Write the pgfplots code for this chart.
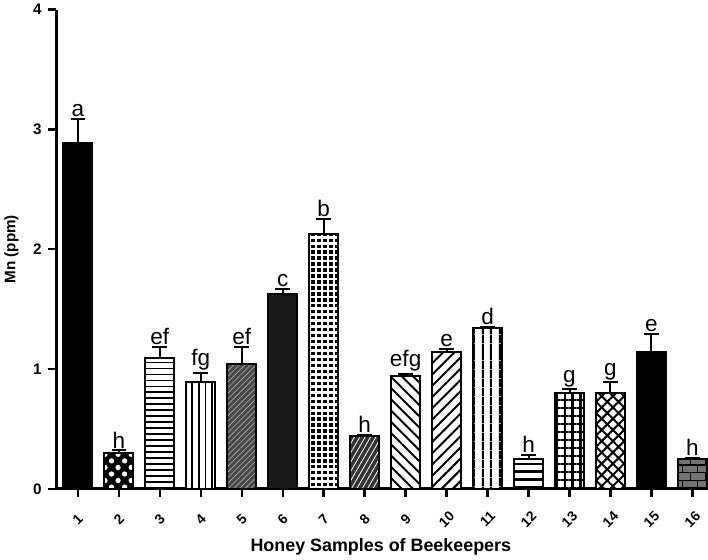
\documentclass[border=0pt]{standalone}
\usepackage{pgfplots}
\pgfplotsset{compat=1.18}
\usepackage{fontspec}
\setmainfont{Liberation Sans}
\usetikzlibrary{patterns,patterns.meta}
\begin{document}
\begin{tikzpicture}
\begin{axis}[
  scale only axis,
  width=490pt, height=361.5pt,
  xmin=0.47, xmax=16.32, ymin=0, ymax=4,
  axis lines=left,
  axis line style={-, line width=2.2pt},
  xtick={1,...,16}, ytick={0,1,2,3,4},
  tick align=outside,
  major tick length=6pt,
  tick style={line width=1.8pt, black},
  /pgf/number format/assume math mode=true,
  ticklabel style={font=\fontsize{11.5}{13}\selectfont\bfseries},
  xticklabel style={rotate=45, anchor=center, font=\fontsize{10.5}{12}\selectfont\bfseries, inner sep=0pt},
  xticklabel shift=17pt,
  yticklabel style={xshift=-1.5pt},
  ylabel={\bfseries Mn (ppm)},
  ylabel style={font=\fontsize{11.5}{13}\selectfont, yshift=4pt},
  xlabel={\bfseries Honey Samples of Beekeepers},
  xlabel style={font=\fontsize{13.5}{15}\selectfont, yshift=-4pt},
  clip=false,
  bb/.style={ybar, bar width=22pt, bar shift=0pt, draw=black, line width=1.5pt,
    error bars/y dir=plus, error bars/y explicit,
    error bars/error bar style={line width=1.5pt, black},
    error bars/error mark options={rotate=90, mark size=5.5pt, line width=1.5pt, black}},
]
\addplot[bb, fill=black] coordinates {(1,2.89) +- (0,0.20)};
\addplot[bb, fill=black, postaction={pattern={Dots[radius=2pt, distance=7pt, angle=45]}, pattern color=white}] coordinates {(2,0.30) +- (0,0.02)};
\addplot[bb, fill=white, postaction={pattern={Lines[angle=0, distance=4.5pt, line width=1.2pt]}}] coordinates {(3,1.09) +- (0,0.09)};
\addplot[bb, fill=white, postaction={pattern={Lines[angle=90, distance=5pt, line width=1.1pt]}}] coordinates {(4,0.89) +- (0,0.08)};
\addplot[bb, fill=black!72, postaction={pattern={Lines[angle=45, distance=3pt, line width=0.5pt]}, pattern color=white!70!black}] coordinates {(5,1.04) +- (0,0.14)};
\addplot[bb, fill=black!90] coordinates {(6,1.63) +- (0,0.04)};
\addplot[bb, fill=black, postaction={pattern={Hatch[angle=0, distance=4.5pt, line width=2pt]}, pattern color=white}] coordinates {(7,2.13) +- (0,0.12)};
\addplot[bb, fill=black!80, postaction={pattern={Lines[angle=60, distance=3.5pt, line width=0.6pt]}, pattern color=white}] coordinates {(8,0.44) +- (0,0.01)};
\addplot[bb, fill=white, postaction={pattern={Lines[angle=-45, distance=6pt, line width=1.5pt]}}] coordinates {(9,0.94) +- (0,0.02)};
\addplot[bb, fill=white, postaction={pattern={Lines[angle=45, distance=6pt, line width=1.5pt]}}] coordinates {(10,1.14) +- (0,0.03)};
\addplot[bb, fill=white, postaction={pattern={Lines[angle=90, distance=6.5pt, line width=1.5pt]}}] coordinates {(11,1.34) +- (0,0.01)};
\addplot[bb, fill=white, postaction={pattern={Lines[angle=0, distance=6pt, line width=2pt]}}] coordinates {(12,0.25) +- (0,0.03)};
\addplot[bb, fill=white, postaction={pattern={Hatch[angle=0, distance=6pt, line width=1.6pt]}}] coordinates {(13,0.80) +- (0,0.03)};
\addplot[bb, fill=white, postaction={pattern={Hatch[angle=45, distance=6pt, line width=1.5pt]}}] coordinates {(14,0.80) +- (0,0.09)};
\addplot[bb, fill=black] coordinates {(15,1.14) +- (0,0.15)};
\addplot[bb, fill=black!55, postaction={pattern=bricks, pattern color=black}] coordinates {(16,0.25) +- (0,0.01)};
\addplot[only marks, mark=none, nodes near coords, point meta=explicit symbolic,
  nodes near coords style={font=\fontsize{17}{17}\selectfont, anchor=south, inner sep=1.5pt}]
  table[x=x, y=y, meta=lab] {
x y lab
1 3.09 a
2 0.32 h
3 1.18 ef
4 0.97 fg
5 1.18 ef
6 1.67 c
7 2.25 b
8 0.45 h
9 0.96 efg
10 1.17 e
11 1.35 d
12 0.28 h
13 0.83 g
14 0.89 g
15 1.29 e
16 0.26 h
};
\end{axis}
\end{tikzpicture}
\end{document}
